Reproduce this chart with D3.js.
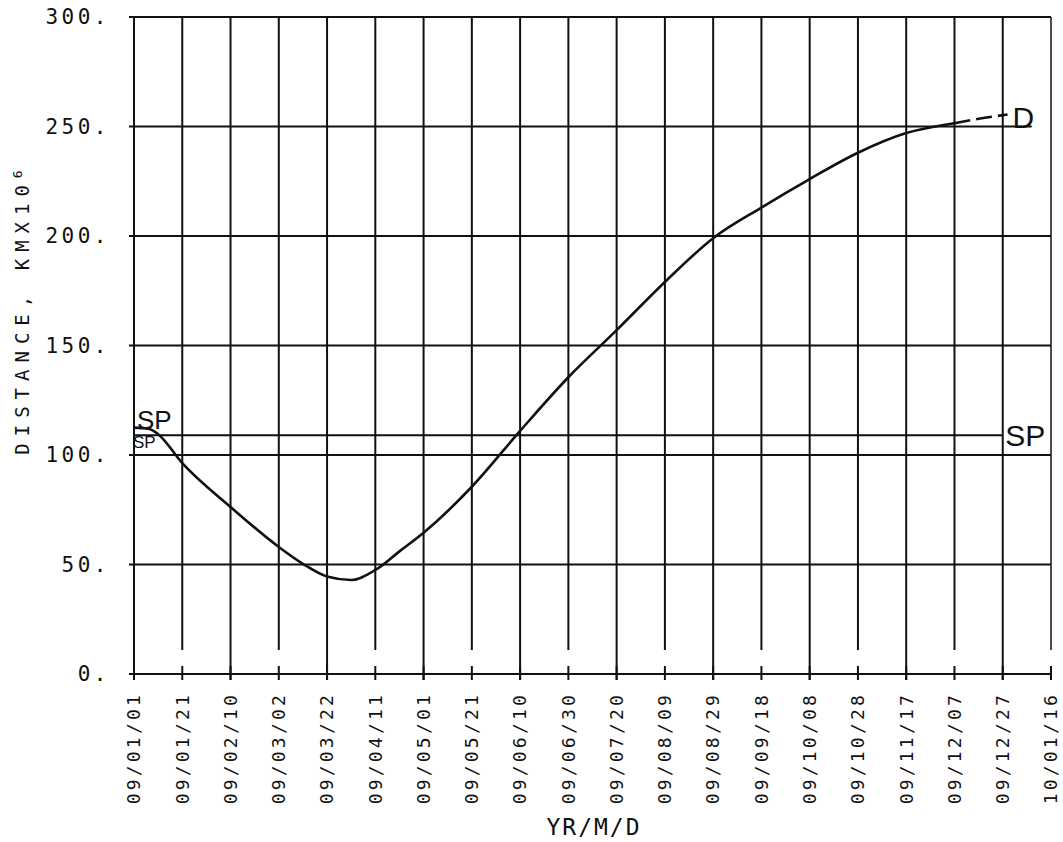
<!DOCTYPE html>
<html>
<head>
<meta charset="utf-8">
<script src="https://cdn.jsdelivr.net/npm/d3@7"></script>
<style>
  body { margin: 0; background: #fff; }
  text { font-family: "DejaVu Sans Mono", monospace; fill: #111; }
</style>
</head>
<body>
<div id="my_dataviz"></div>
<script>
var width = 1063
var height = 842

// days since 09/01/01 and distance (km x 10^6)
var days = [0, 6, 10, 20, 40, 60, 70, 80, 90, 100, 110, 120, 140, 160, 180, 200, 220, 240, 260, 280, 300, 320, 340]
var distance = [112.5, 112, 109.5, 96.3, 76.3, 58, 50.3, 44.5, 42.9, 47.5, 56, 64.5, 85.5, 111, 135.5, 157, 179, 199, 213, 226, 238, 247, 251.5]

// dashed tail near the end
var tailDays = [340, 350, 362]
var tailDistance = [251.5, 253.5, 255.5]

// SP reference line
var spDays = [0, 360]
var spDistance = [109, 109]

var tickDays = [0, 20, 40, 60, 80, 100, 120, 140, 160, 180, 200, 220, 240, 260, 280, 300, 320, 340, 360, 380]
var tickLabels = ["09/01/01", "09/01/21", "09/02/10", "09/03/02", "09/03/22", "09/04/11", "09/05/01",
    "09/05/21", "09/06/10", "09/06/30", "09/07/20", "09/08/09", "09/08/29", "09/09/18", "09/10/08",
    "09/10/28", "09/11/17", "09/12/07", "09/12/27", "10/01/16"]
var yTicks = [0, 50, 100, 150, 200, 250, 300]

var svg = d3.select("#my_dataviz")
    .append("svg")
    .attr("width", width)
    .attr("height", height)

var x = d3.scaleLinear().domain([0, 380]).range([134, 1051])
var y = d3.scaleLinear().domain([0, 300]).range([674, 17])

// horizontal grid
svg.append("g")
    .selectAll("line")
    .data(yTicks)
    .enter()
    .append("line")
    .attr("x1", function (d) { return x(0) - 5 })
    .attr("x2", function (d) { return d == 250 ? x(372) : x(380) })
    .attr("y1", function (d) { return y(d) })
    .attr("y2", function (d) { return y(d) })
    .attr("stroke", "#111")
    .attr("stroke-width", 2)

// vertical grid (every other line stops a bit short of the axis)
svg.append("g")
    .selectAll("line")
    .data(tickDays)
    .enter()
    .append("line")
    .attr("x1", function (d) { return x(d) })
    .attr("x2", function (d) { return x(d) })
    .attr("y1", y(300))
    .attr("y2", function (d, i) { return (i % 2 == 1) ? y(11) : y(0) + 6 })
    .attr("stroke", "#111")
    .attr("stroke-width", function (d, i) { return i == tickDays.length - 1 ? 1.5 : 2 })

// small tick marks on the x axis
svg.append("g")
    .selectAll("line")
    .data(tickDays)
    .enter()
    .append("line")
    .attr("x1", function (d) { return x(d) })
    .attr("x2", function (d) { return x(d) })
    .attr("y1", y(0) - 8)
    .attr("y2", y(0) + 6)
    .attr("stroke", "#111")
    .attr("stroke-width", 2)

// y tick labels
svg.append("g")
    .selectAll("text")
    .data(yTicks)
    .enter()
    .append("text")
    .attr("x", 110)
    .attr("y", function (d) { return y(d) })
    .attr("dy", "0.35em")
    .attr("text-anchor", "end")
    .style("font-size", "21px")
    .style("letter-spacing", "3.5px")
    .text(function (d) { return d + "." })

// x tick labels, rotated
svg.append("g")
    .selectAll("text")
    .data(tickDays)
    .enter()
    .append("text")
    .attr("transform", function (d) { return "translate(" + x(d) + ",692) rotate(-90)" })
    .attr("dy", "0.35em")
    .attr("text-anchor", "end")
    .style("font-size", "18px")
    .style("letter-spacing", "3.2px")
    .text(function (d, i) { return tickLabels[i] })

// axis titles
svg.append("text")
    .attr("x", 594)
    .attr("y", 835)
    .attr("text-anchor", "middle")
    .style("font-size", "23px")
    .style("letter-spacing", "2px")
    .text("YR/M/D")

var yTitle = svg.append("text")
    .attr("transform", "translate(22,309) rotate(-90)")
    .attr("dy", "0.35em")
    .attr("text-anchor", "middle")
    .style("font-size", "19px")
    .style("letter-spacing", "7px")
yTitle.append("tspan").text("DISTANCE, KMX10")
yTitle.append("tspan").attr("dy", "-0.5em").style("font-size", "13px").text("6")

var line = d3.line()
    .x(function (d) { return x(d[0]) })
    .y(function (d) { return y(d[1]) })

// SP line
svg.append("path")
    .attr("d", line.curve(d3.curveLinear)(d3.zip(spDays, spDistance)))
    .attr("fill", "none")
    .attr("stroke", "#111")
    .attr("stroke-width", 2)

// distance curve
svg.append("path")
    .attr("d", line.curve(d3.curveMonotoneX)(d3.zip(days, distance)))
    .attr("fill", "none")
    .attr("stroke", "#111")
    .attr("stroke-width", 2.6)

svg.append("path")
    .attr("d", line.curve(d3.curveMonotoneX)(d3.zip(tailDays, tailDistance)))
    .attr("fill", "none")
    .attr("stroke", "#111")
    .attr("stroke-width", 2.6)
    .attr("stroke-dasharray", "16,6")

// curve labels
svg.append("text")
    .attr("x", x(362) + 5)
    .attr("y", y(250) + 1)
    .style("font-family", "Liberation Sans, sans-serif")
    .style("font-size", "30px")
    .text("D")

svg.append("text")
    .attr("x", x(361))
    .attr("y", y(spDistance[1]) + 11)
    .style("font-family", "Liberation Sans, sans-serif")
    .style("font-size", "30px")
    .text("SP")

svg.append("text")
    .attr("x", x(0) + 3)
    .attr("y", y(spDistance[0]) - 6)
    .style("font-family", "Liberation Sans, sans-serif")
    .style("font-size", "26px")
    .text("SP")

svg.append("text")
    .attr("x", x(0) - 1)
    .attr("y", y(spDistance[0]) + 13)
    .style("font-family", "Liberation Sans, sans-serif")
    .style("font-size", "17px")
    .text("SP")
</script>
</body>
</html>
